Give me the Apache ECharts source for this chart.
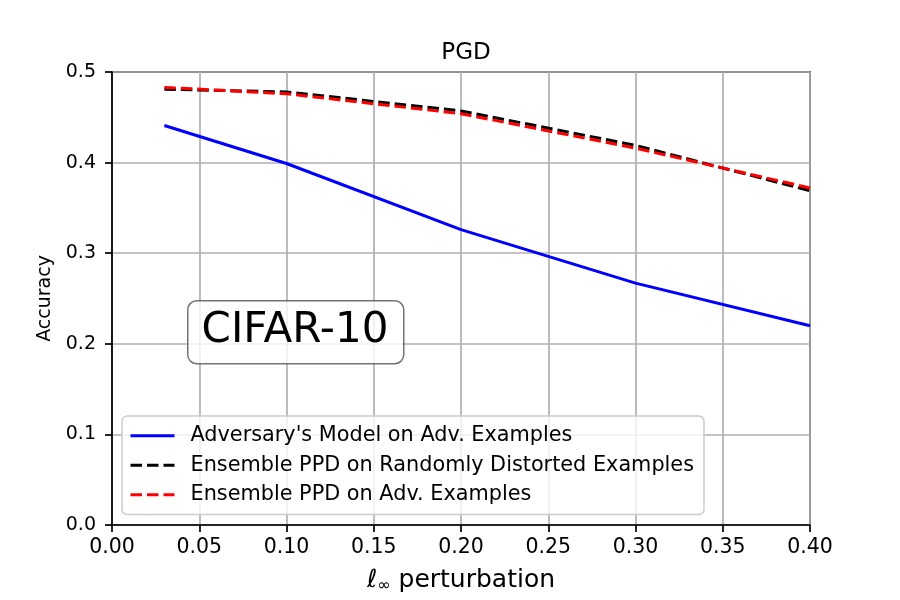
<!DOCTYPE html>
<html>
<head>
<meta charset="utf-8">
<script src="https://cdn.jsdelivr.net/npm/echarts@6/dist/echarts.min.js"></script>
<style>
  body { margin: 0; background: #fff; }
  #chart { width: 900px; height: 600px; }
</style>
</head>
<body>
<div id="chart"></div>
<script>
// 扰动大小 / 各条曲线的准确率
var epsList = [0.03, 0.1, 0.2, 0.3, 0.4];
var advModel = [0.441, 0.399, 0.326, 0.267, 0.220];
var ppdDistorted = [0.481, 0.478, 0.457, 0.419, 0.369];
var ppdAdv = [0.483, 0.476, 0.454, 0.416, 0.372];

var seriesNames = [
  "Adversary's Model on Adv. Examples",
  "Ensemble PPD on Randomly Distorted Examples",
  "Ensemble PPD on Adv. Examples",
];

function pairs(ys) {
  return epsList.map(function (x, i) {
    return [x, ys[i]];
  });
}

var myChart = echarts.init(document.getElementById("chart"));
var font = "DejaVu Sans";
var dash = [11.5, 5];

var option = {
  animation: false,
  backgroundColor: "#fff",
  textStyle: { fontFamily: font },
  title: {
    text: "PGD",
    left: 461,
    textAlign: "center",
    top: 37,
    textStyle: { fontSize: 23, fontWeight: "normal", color: "#000", fontFamily: font },
  },
  grid: {
    left: 112,
    right: 90,
    top: 72,
    bottom: 75,
    outerBoundsMode: "none",
    containLabel: false,
    show: true,
    borderColor: "#000",
    borderWidth: 1.7,
  },
  legend: {
    orient: "vertical",
    left: 122,
    top: 416,
    padding: [8, 10, 8, 7],
    itemWidth: 44,
    itemHeight: 14,
    itemGap: 6,
    backgroundColor: "rgba(255,255,255,0.8)",
    borderColor: "#cccccc",
    borderWidth: 1.5,
    borderRadius: 5,
    itemStyle: { opacity: 0 },
    lineStyle: { width: 3 },
    textStyle: { fontSize: 20.8, lineHeight: 23.5, color: "#000", fontFamily: font, padding: [0, 0, 0, 11] },
    data: seriesNames,
  },
  xAxis: {
    type: "value",
    min: 0,
    max: 0.4,
    interval: 0.05,
    name: "{a|ℓ}{b|∞}{a| perturbation}",
    nameLocation: "middle",
    nameGap: 41,
    nameTextStyle: {
      color: "#000",
      fontFamily: font,
      rich: {
        a: { fontSize: 25, color: "#000", fontFamily: font },
        b: { fontSize: 16, color: "#000", fontFamily: font, padding: [12, 0, 0, 0] },
      },
    },
    axisLine: { show: true, onZero: false, lineStyle: { color: "#000", width: 1.7 } },
    axisTick: { show: true, length: 7, lineStyle: { color: "#000", width: 1.7 } },
    axisLabel: {
      fontSize: 20.5,
      color: "#000",
      margin: 12,
      formatter: function (v) { return v.toFixed(2); },
    },
    splitLine: { show: true, lineStyle: { color: "#b0b0b0", width: 1.7 } },
  },
  yAxis: {
    type: "value",
    min: 0,
    max: 0.5,
    interval: 0.1,
    name: "Accuracy",
    nameLocation: "middle",
    nameGap: 53,
    nameTextStyle: { fontSize: 19, color: "#000", fontFamily: font },
    axisLine: { show: true, lineStyle: { color: "#000", width: 1.7 } },
    axisTick: { show: true, length: 7, lineStyle: { color: "#000", width: 1.7 } },
    axisLabel: {
      fontSize: 19,
      color: "#000",
      margin: 16,
      formatter: function (v) { return v.toFixed(1); },
    },
    splitLine: { show: true, lineStyle: { color: "#b0b0b0", width: 1.7 } },
  },
  graphic: [
    {
      type: "rect",
      left: 187,
      top: 300,
      shape: { width: 216, height: 63, r: 9 },
      style: { fill: "rgba(255,255,255,0.8)", stroke: "rgba(80,80,80,0.8)", lineWidth: 1.5 },
      z: 100,
    },
    {
      type: "text",
      x: 295,
      y: 331,
      style: {
        text: "CIFAR-10",
        fontSize: 42,
        fontFamily: font,
        fill: "#000",
        textAlign: "center",
        textVerticalAlign: "middle",
      },
      z: 101,
    },
  ],
  series: [
    {
      name: seriesNames[0],
      type: "line",
      showSymbol: false,
      symbol: "none",
      data: pairs(advModel),
      lineStyle: { color: "#0000ff", width: 3 },
      itemStyle: { color: "#0000ff" },
    },
    {
      name: seriesNames[1],
      type: "line",
      showSymbol: false,
      symbol: "none",
      data: pairs(ppdDistorted),
      lineStyle: { color: "#000", width: 3, type: dash },
      itemStyle: { color: "#000" },
    },
    {
      name: seriesNames[2],
      type: "line",
      showSymbol: false,
      symbol: "none",
      data: pairs(ppdAdv),
      lineStyle: { color: "#ff0000", width: 3, type: dash },
      itemStyle: { color: "#ff0000" },
    },
  ],
};

myChart.setOption(option);
</script>
</body>
</html>
